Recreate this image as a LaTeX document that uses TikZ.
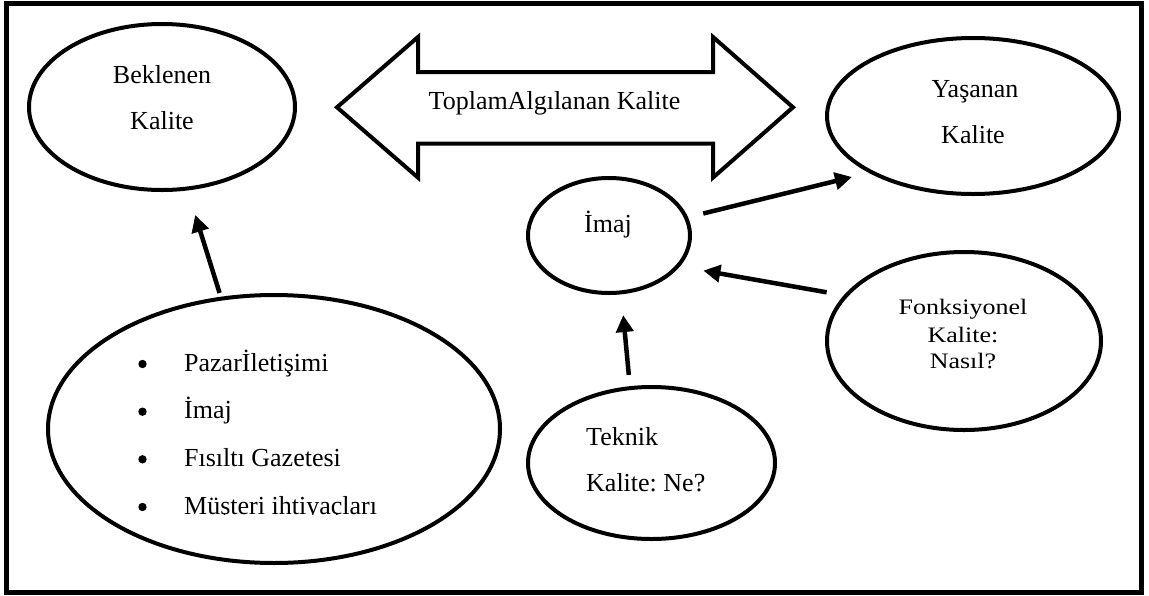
\documentclass[tikz,border=0pt]{standalone}
\usepackage{fontspec}
\setmainfont{Liberation Serif}
\usetikzlibrary{arrows.meta,shapes.geometric}
\frenchspacing
\begin{document}
\begin{tikzpicture}[x=1pt,y=1pt,
  oval/.style={ellipse, draw, line width=4pt, inner sep=0pt, outer sep=0pt},
  lbl/.style={font=\fontsize{26}{30}\selectfont, inner sep=0pt, anchor=base},
  lbll/.style={lbl, anchor=base west},
  conn/.style={line width=4.5pt, -{Triangle[length=17pt,width=17pt]}},
  framebox/.style={line width=5pt},
  bigarrow/.style={line width=4pt, line join=miter},
  bulletdot/.style={fill=black}
]
\useasboundingbox (0,0) rectangle (1149,-595);
\draw[framebox] (6,-3) rectangle (1141,-592);

% ellipses
\node[oval, minimum width=266pt, minimum height=166pt] (bek) at (162,-107) {};
\node[oval, minimum width=292pt, minimum height=156pt] (yas) at (973,-116) {};
\node[oval, minimum width=162pt, minimum height=115pt] (img) at (609,-235.5) {};
\node[oval, minimum width=247pt, minimum height=152pt] (tek) at (651.5,-463) {};
\node[oval, minimum width=274pt, minimum height=178pt] (fonk) at (964,-341) {};
\node[oval, minimum width=452pt, minimum height=268pt] (big) at (274,-429) {};

% double arrow
\draw[bigarrow] (337,-107.3) -- (418,-37) -- (418,-72) -- (713,-72) -- (713,-37)
  -- (793,-107.3) -- (713,-177.6) -- (713,-143.6) -- (418,-143.6) -- (418,-177.6) -- cycle;

% texts
\node[lbl] (bek1) at (162,-83) {Beklenen};
\node[lbl] (bek2) at (162,-129) {Kalite};
\node[lbl] (tot) at (554.5,-109) {ToplamAlgılanan Kalite};
\node[lbl] (yas1) at (975,-97) {Yaşanan};
\node[lbl] (yas2) at (973,-143) {Kalite};
\node[lbl] (img1) at (608,-232) {İmaj};
\node[lbll] (tek1) at (586,-445) {Teknik};
\node[lbll] (tek2) at (586,-491) {Kalite: Ne?};
\node[lbl] (fk1) at (963,-314) {\scalebox{1}[0.85]{Fonksiyonel}};
\node[lbl] (fk2) at (963,-342) {\scalebox{1}[0.85]{Kalite:}};
\node[lbl] (fk3) at (963,-368) {\scalebox{1}[0.85]{Nasıl?}};

% bullet list
\fill[bulletdot] (142.5,-364) circle (4.2pt);
\fill[bulletdot] (142.5,-411.7) circle (4.2pt);
\fill[bulletdot] (142.5,-459.3) circle (4.2pt);
\fill[bulletdot] (142.5,-507) circle (4.2pt);
\node[lbll] (b1) at (184,-371) {Pazarİletişimi};
\node[lbll] (b2) at (184,-418.7) {İmaj};
\node[lbll] (b3) at (184,-466.3) {Fısıltı Gazetesi};
\begin{scope}
  \clip (170,-480) rectangle (430,-514.6);
  \node[lbll] (b4) at (184,-514) {Müşteri ihtiyaçları};
\end{scope}

% connectors
\draw[conn, shorten <=6pt, shorten >=27.7pt] (big.112.2) -- (bek.-73);
\draw[conn, shorten <=17.7pt, shorten >=20.3pt] (img.13.4) -- (yas.209);
\draw[conn, shorten <=19.7pt, shorten >=26.1pt] (fonk.159.4) -- (img.-24.3);
\draw[conn, shorten <=13.3pt, shorten >=22.8pt] (tek.106.7) -- (img.-78);
\end{tikzpicture}
\end{document}
